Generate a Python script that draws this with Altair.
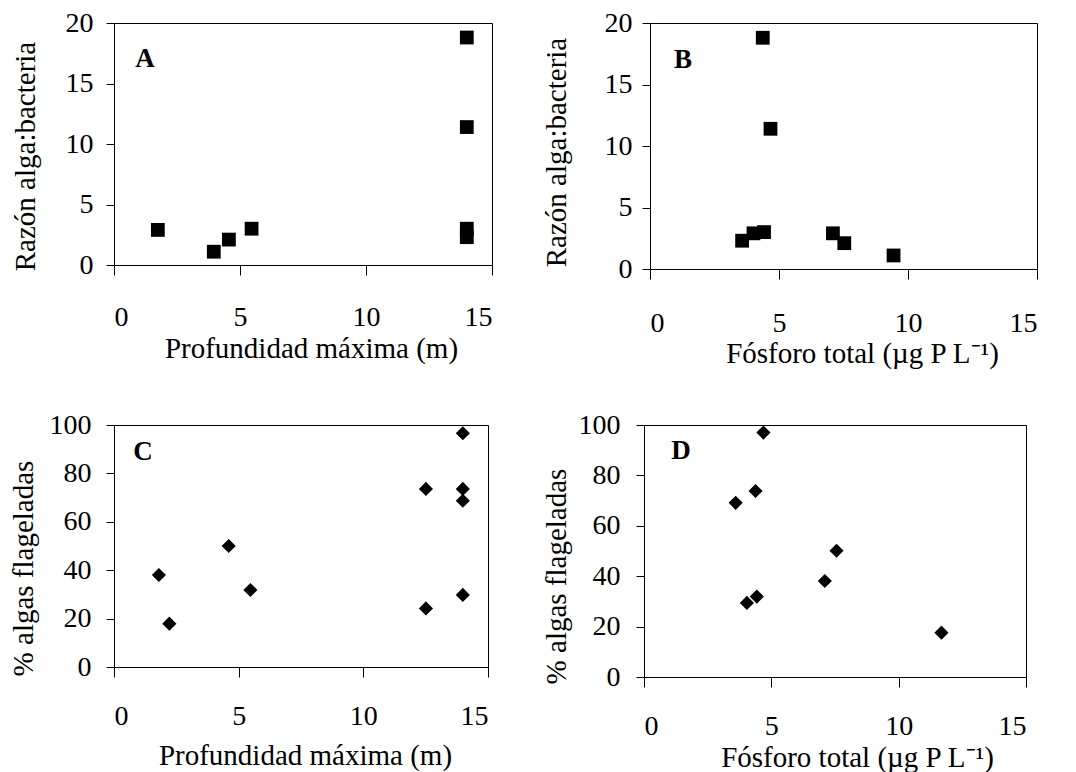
import altair as alt
import pandas as pd

# ---- data ----
a_x = [1.74, 3.96, 4.56, 5.46, 14.0, 14.0, 14.0, 14.0]
a_y = [2.9, 1.1, 2.1, 3.0, 18.8, 11.4, 3.0, 2.3]

b_x = [3.57, 4.01, 4.42, 4.37, 4.67, 7.09, 7.53, 9.44]
b_y = [2.3, 2.9, 3.0, 18.8, 11.4, 2.9, 2.1, 1.1]

c_x = [1.80, 2.22, 4.60, 5.47, 12.51, 12.51, 13.99, 13.99, 13.99, 13.99]
c_y = [38.0, 17.9, 50.0, 31.8, 73.6, 24.2, 96.6, 73.6, 68.7, 29.8]

d_x = [3.60, 4.38, 4.69, 7.56, 7.10, 4.04, 4.43, 11.68]
d_y = [69.1, 73.8, 97.0, 50.1, 38.1, 29.4, 31.9, 17.6]

x_ticks = [0, 5, 10, 15]
ratio_ticks = [0, 5, 10, 15, 20]
pct_ticks = [0, 20, 40, 60, 80, 100]

title_depth = "Profundidad máxima (m)"
title_phos = "Fósforo total (µg P L⁻¹)"
title_ratio = "Razón alga:bacteria"
title_pct = "% algas flageladas"

FONT = "Liberation Serif"


def panel(xs, ys, shape, size, yticks, ytitle, xtitle, letter, w, h,
          lx, ly, ytx, yty, ylabpad, xlaboff, xtx, xty):
    df = pd.DataFrame({"x": xs, "y": ys})
    pts = alt.Chart(df).mark_point(
        shape=shape, filled=True, color="black", size=size, opacity=1
    ).encode(
        x=alt.X("x:Q",
                scale=alt.Scale(domain=[0, 15], nice=False),
                axis=alt.Axis(values=x_ticks, title=xtitle, grid=False,
                              tickSize=10, labelPadding=xlaboff - 10,
                              labelBaseline="alphabetic",
                              titleX=xtx, titleY=xty,
                              titleBaseline="alphabetic")),
        y=alt.Y("y:Q",
                scale=alt.Scale(domain=[yticks[0], yticks[-1]], nice=False),
                axis=alt.Axis(values=yticks, title=ytitle, grid=False,
                              tickSize=8, labelPadding=ylabpad,
                              titleX=ytx, titleY=yty, titleAngle=270,
                              titleBaseline="alphabetic")),
    )
    lab = alt.Chart(pd.DataFrame({"t": [letter]})).mark_text(
        font=FONT, fontSize=27, fontWeight="bold", color="black",
        align="center", baseline="middle"
    ).encode(text="t:N", x=alt.value(lx), y=alt.value(ly))
    return alt.layer(pts, lab).properties(width=w, height=h)


A = panel(a_x, a_y, "square", 190, ratio_ticks, title_ratio, title_depth, "A",
          378, 242, 31, 36, -80, 133, 13, 60, 197, 92)
B = panel(b_x, b_y, "square", 190, ratio_ticks, title_ratio, title_phos, "B",
          387, 246, 33, 37, -85, 129, 10, 62, 212, 93)
C = panel(c_x, c_y, "diamond", 200, pct_ticks, title_pct, title_depth, "C",
          374, 242, 29, 27, -82, 143, 15, 57, 191, 97)
D = panel(d_x, d_y, "diamond", 200, pct_ticks, title_pct, title_phos, "D",
          382, 252, 37, 26, -79, 151, 16, 57, 213, 89)

chart = alt.concat(A, B, C, D, columns=2, align="none",
                   spacing={"row": 41, "column": 48}).properties(
    padding={"left": 0, "top": 0, "right": 0, "bottom": 0}
).configure_axis(
    labelFont=FONT, titleFont=FONT, labelFontSize=28, titleFontSize=29,
    titleFontWeight="normal", labelColor="black", titleColor="black",
    domainColor="black", tickColor="black", domainWidth=1, tickWidth=1
).configure_view(
    stroke="black", strokeWidth=1
)

chart.save("out.html", embed_options={"renderer": "svg", "actions": False})
